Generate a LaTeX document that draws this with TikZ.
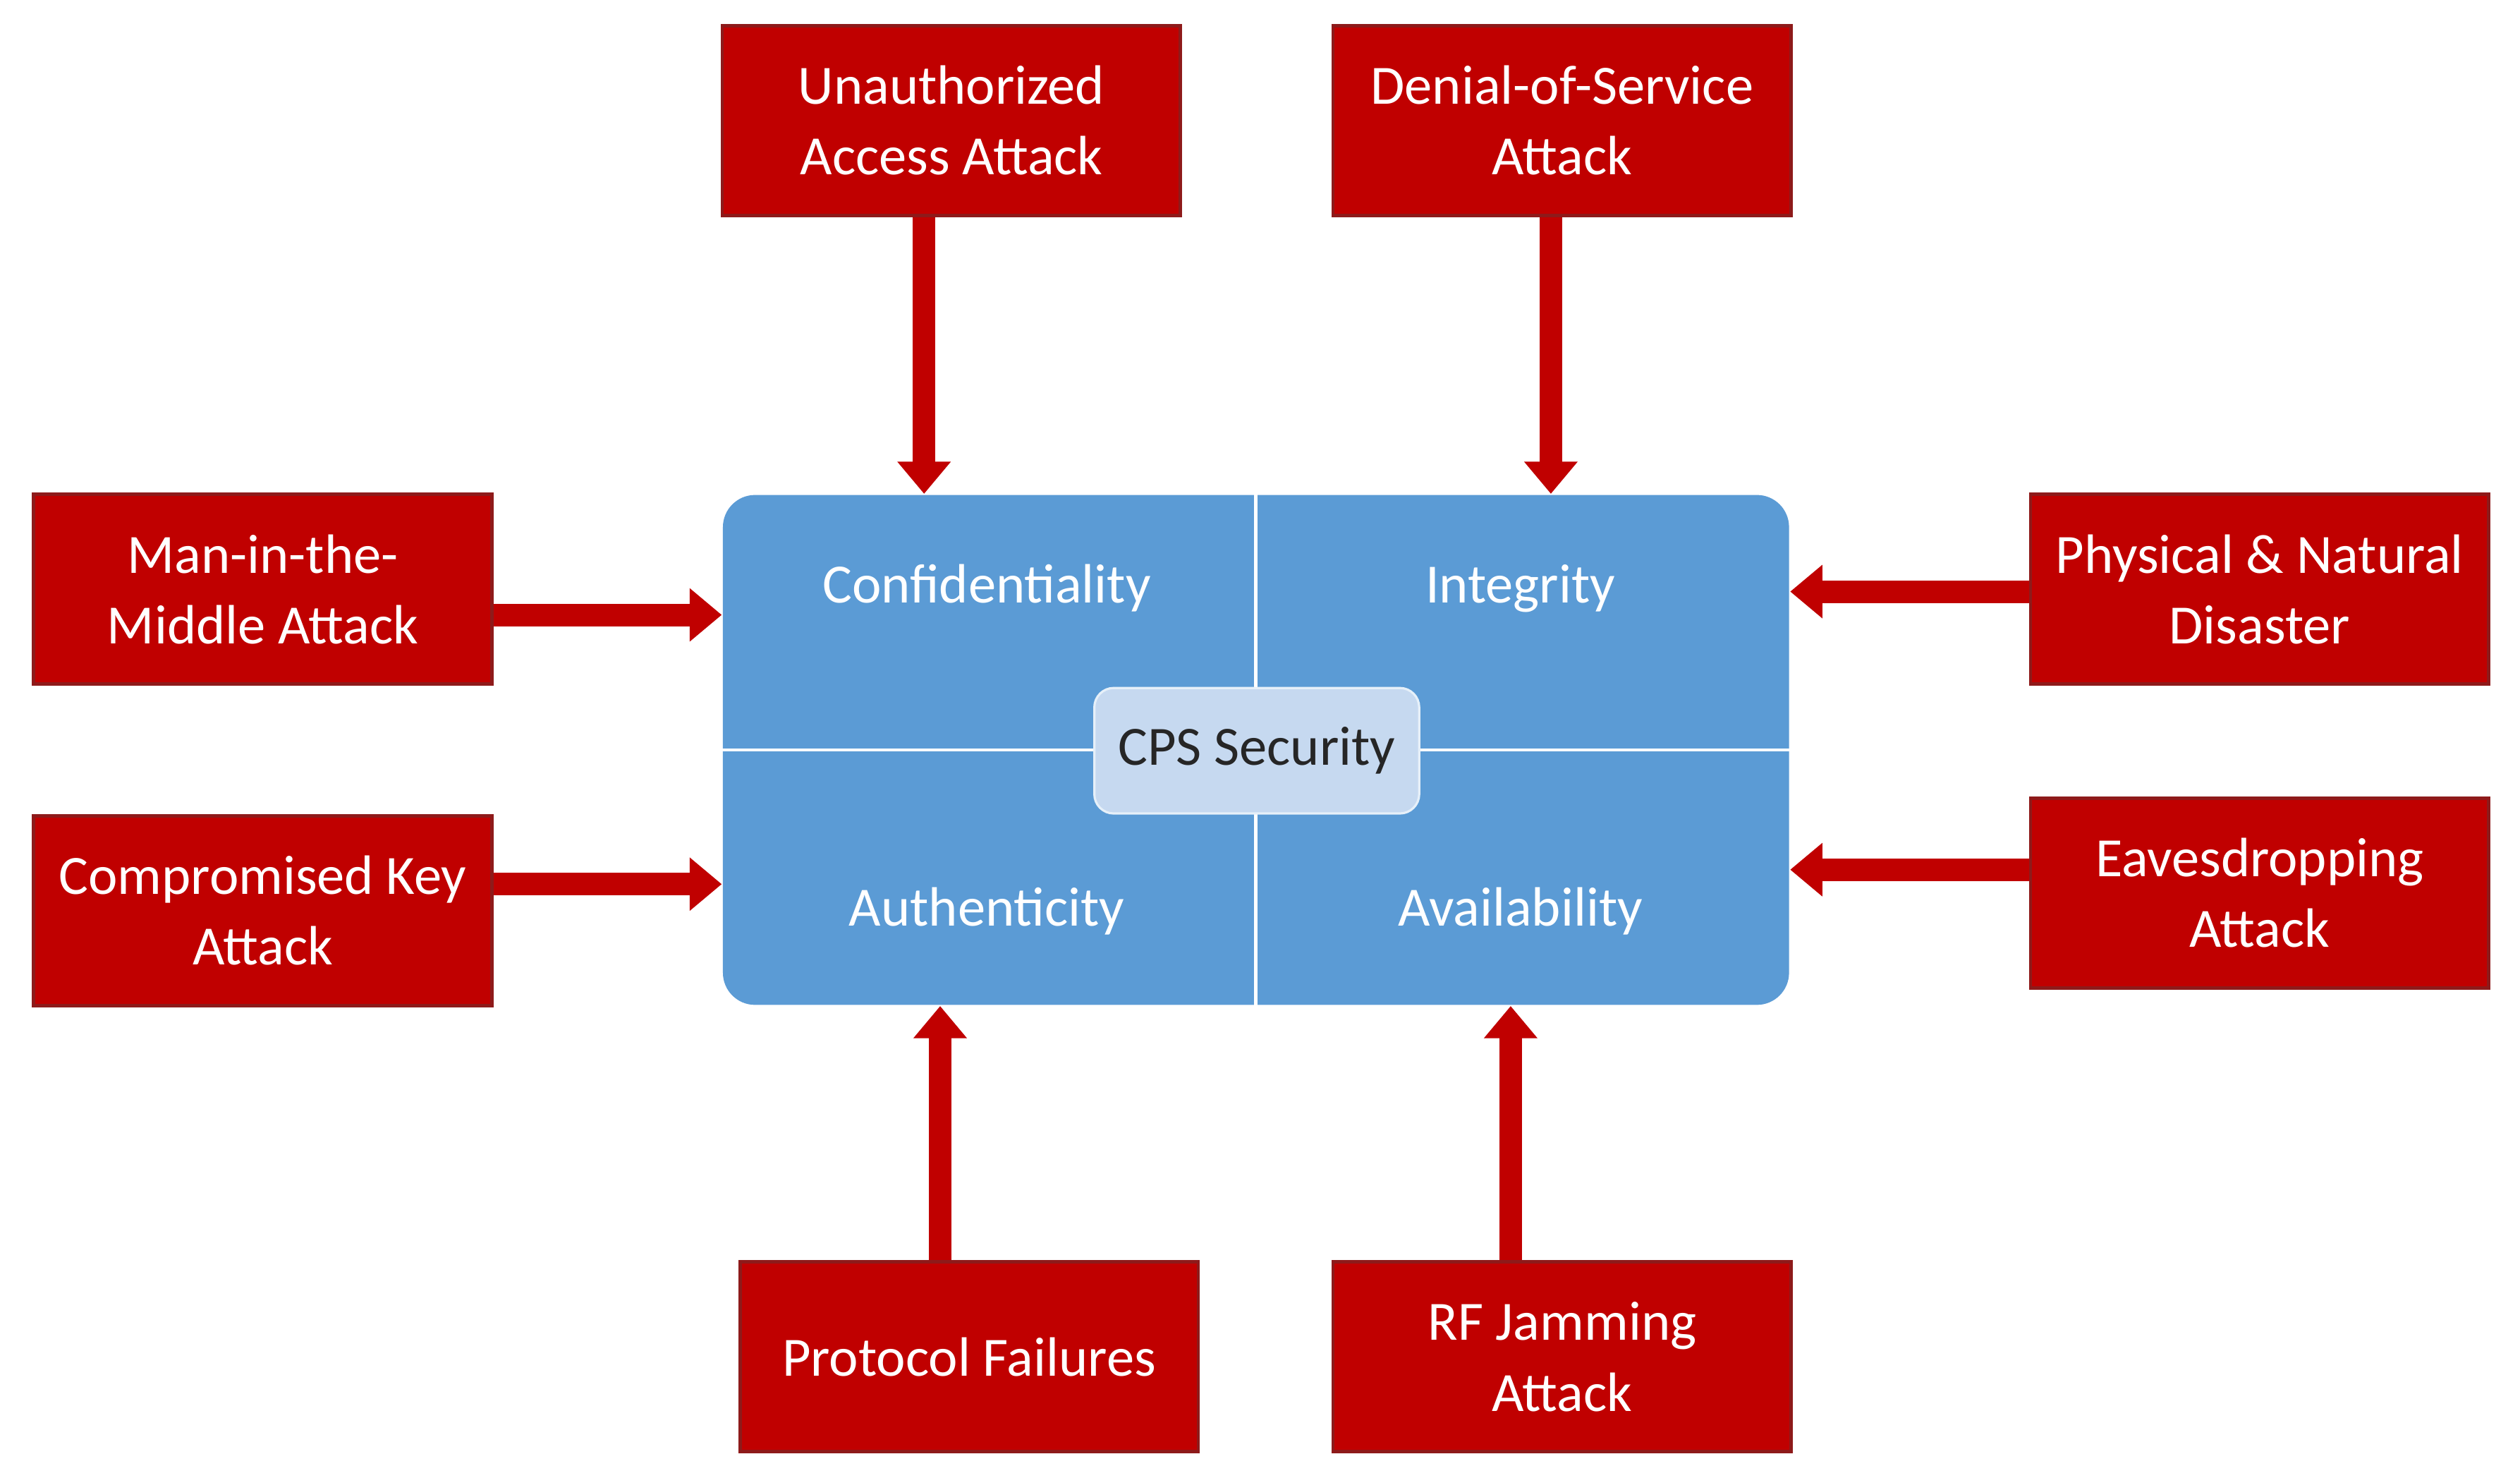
\documentclass[tikz,border=0pt]{standalone}
\usepackage{fontspec}
\setmainfont{Carlito}
\usetikzlibrary{arrows.meta}
\definecolor{atk}{HTML}{C00000}
\definecolor{atkb}{HTML}{8E1A1A}
\definecolor{blu}{HTML}{5B9BD5}
\definecolor{cps}{HTML}{C6D9F0}
\tikzset{
 atkbox/.style={draw=atkb,line width=0.6pt,fill=atk,text=white,align=center,minimum width=2.85cm,minimum height=1.18cm,font=\fontsize{9.8}{12.5}\selectfont},
 arr/.style={draw=atk,line width=0.14cm,-{Triangle[width=0.32cm,length=0.2cm]}},
 lbl/.style={text=white,font=\fontsize{9.8}{12.5}\selectfont}
}
\begin{document}
\begin{tikzpicture}[x=0.01cm,y=-0.01cm]
\useasboundingbox[fill=white] (0,0) rectangle (1568,919);
\node[draw=none,fill=blu,rounded corners=0.2cm,minimum width=6.63cm,minimum height=3.17cm] (cia) at (781.5,466.5) {};
\draw[white,line width=0.6pt] (cia.north) -- (cia.south) (cia.west) -- (cia.east);
\node[draw=white!85!blu,fill=cps,rounded corners=0.12cm,minimum width=2.02cm,minimum height=0.78cm,font=\fontsize{9.8}{12.5}\selectfont,text=black!85] (cps) at (782,467) {CPS Security};
\node[lbl] (c1) at (614,366) {Confidentiality};
\node[lbl] (c2) at (946,366) {Integrity};
\node[lbl] (c3) at (614,567) {Authenticity};
\node[lbl] (c4) at (946,567) {Availability};
\node[atkbox] (ua) at (592,75) {Unauthorized\\Access Attack};
\node[atkbox] (dos) at (972,75) {Denial-of-Service\\Attack};
\node[atkbox] (mitm) at (163.5,366.5) {Man-in-the-\\Middle Attack};
\node[atkbox] (ck) at (163.5,566.5) {Compromised Key\\Attack};
\node[atkbox] (pn) at (1406,366.5) {Physical \& Natural\\Disaster};
\node[atkbox] (ev) at (1406,555.5) {Eavesdropping\\Attack};
\node[atkbox] (pf) at (603,844) {Protocol Failures};
\node[atkbox] (rf) at (972,844) {RF Jamming\\Attack};
\draw[arr] ([xshift=-0.17cm]ua.south) -- ([xshift=-0.17cm]ua.south |- cia.north);
\draw[arr] ([xshift=-0.07cm]dos.south) -- ([xshift=-0.07cm]dos.south |- cia.north);
\draw[arr] ([yshift=-0.16cm]mitm.east) -- ([yshift=-0.16cm]mitm.east -| cia.west);
\draw[arr] ([yshift=0.165cm]ck.east) -- ([yshift=0.165cm]ck.east -| cia.west);
\draw[arr] ([yshift=-0.015cm]pn.west) -- ([yshift=-0.015cm]pn.west -| cia.east);
\draw[arr] ([yshift=0.145cm]ev.west) -- ([yshift=0.145cm]ev.west -| cia.east);
\draw[arr] ([xshift=-0.18cm]pf.north) -- ([xshift=-0.18cm]pf.north |- cia.south);
\draw[arr] ([xshift=-0.32cm]rf.north) -- ([xshift=-0.32cm]rf.north |- cia.south);
\end{tikzpicture}
\end{document}
